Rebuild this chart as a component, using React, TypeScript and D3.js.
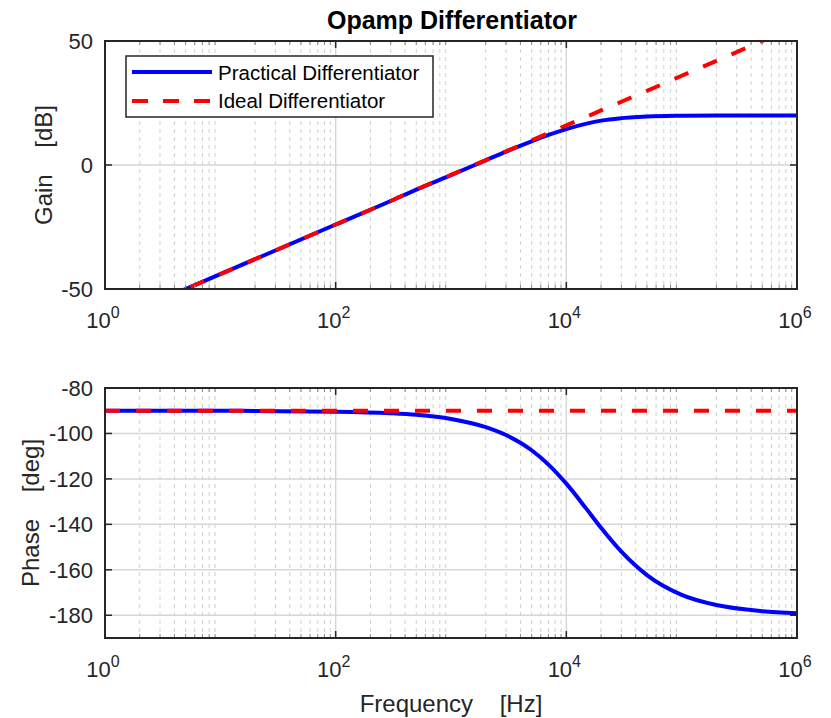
import React from 'react';
import * as d3 from 'd3';

// frequency samples [Hz] and values
const freq = [1, 10, 100, 300, 500, 1000, 2000, 3000, 5000, 7000, 1e4, 1.5e4, 2e4, 3e4, 5e4, 1e5, 2e5, 5e5, 1e6];
const practicalGain = [-64.0, -44.0, -24.0, -14.5, -9.9, -4.1, 1.9, 5.4, 9.5, 12.1, 14.5, 16.7, 17.9, 18.9, 19.6, 19.9, 20.0, 20.0, 20.0];
const idealGain = [-64.0, -44.0, -24.0, -14.5, -9.9, -4.0, 2.0, 5.5, 9.9, 12.9, 16.0, 19.5, 22.0, 25.5, 29.9, 36.0, 42.0, 50.0, 56.0];
const practicalPhase = [-90.0, -90.0, -90.4, -91.1, -91.8, -93.6, -97.2, -100.7, -107.4, -113.7, -122.1, -133.3, -141.5, -152.0, -162.3, -171.0, -175.5, -178.2, -179.1];
const idealPhase = [-90, -90, -90, -90, -90, -90, -90, -90, -90, -90, -90, -90, -90, -90, -90, -90, -90, -90, -90];

const xDecades = [0, 2, 4, 6];
const gainTicks = [-50, 0, 50];
const phaseTicks = [-180, -160, -140, -120, -100, -80];
const legendLabels = ['Practical Differentiator', 'Ideal Differentiator'];

const FONT = '"Liberation Sans", Arial, Helvetica, sans-serif';
const AX = '#262626';
const BLUE = '#0000ff';
const RED = '#ff0000';

const W = 831;
const H = 718;
const left = 105;
const right = 797;

const x = d3.scaleLog().domain([1, 1e6]).range([left, right]);

const minorX: number[] = [];
for (let k = 0; k < 6; k++) {
    for (let m = 2; m <= 9; m++) minorX.push(m * Math.pow(10, k));
}

type PanelProps = {
    id: string;
    top: number;
    bottom: number;
    yDomain: [number, number];
    yTicks: number[];
    series: { values: number[]; color: string; dashed: boolean }[];
    yLabel: [string, string];
    yLabelX: number;
};

const Panel = ({ id, top, bottom, yDomain, yTicks, series, yLabel, yLabelX }: PanelProps) => {
    const y = d3.scaleLinear().domain(yDomain).range([bottom, top]);
    const line = (vals: number[]) =>
        d3
            .line<number>()
            .x((_, i) => x(freq[i]))
            .y((d) => y(d))
            .curve(d3.curveMonotoneX)(vals) || '';
    const midY = (top + bottom) / 2;

    return (
        <g>
            <defs>
                <clipPath id={id}>
                    <rect x={left} y={top} width={right - left} height={bottom - top} />
                </clipPath>
            </defs>
            <rect x={left} y={top} width={right - left} height={bottom - top} fill="#fff" />
            {/* minor grid */}
            {minorX.map((f) => (
                <line key={'mg' + f} x1={x(f)} x2={x(f)} y1={top} y2={bottom} stroke="#d0d0d0" strokeWidth={1} strokeDasharray="4,4" />
            ))}
            {/* major grid */}
            {xDecades.map((d) => (
                <line key={'gx' + d} x1={x(Math.pow(10, d))} x2={x(Math.pow(10, d))} y1={top} y2={bottom} stroke="#d6d6d6" strokeWidth={1.5} />
            ))}
            {yTicks.map((t) => (
                <line key={'gy' + t} x1={left} x2={right} y1={y(t)} y2={y(t)} stroke="#d6d6d6" strokeWidth={1.5} />
            ))}
            {/* data */}
            <g clipPath={`url(#${id})`}>
                {series.map((s, i) => (
                    <path
                        key={i}
                        d={line(s.values)}
                        fill="none"
                        stroke={s.color}
                        strokeWidth={4}
                        strokeDasharray={s.dashed ? '15,16' : undefined}
                    />
                ))}
            </g>
            {/* ticks */}
            {xDecades.map((d) => (
                <g key={'tx' + d}>
                    <line x1={x(Math.pow(10, d))} x2={x(Math.pow(10, d))} y1={bottom} y2={bottom - 7} stroke={AX} strokeWidth={1.5} />
                    <line x1={x(Math.pow(10, d))} x2={x(Math.pow(10, d))} y1={top} y2={top + 7} stroke={AX} strokeWidth={1.5} />
                </g>
            ))}
            {minorX.map((f) => (
                <g key={'mt' + f}>
                    <line x1={x(f)} x2={x(f)} y1={bottom} y2={bottom - 4} stroke="#888" />
                    <line x1={x(f)} x2={x(f)} y1={top} y2={top + 4} stroke="#888" />
                </g>
            ))}
            {yTicks.map((t) => (
                <g key={'ty' + t}>
                    <line x1={left} x2={left + 7} y1={y(t)} y2={y(t)} stroke={AX} strokeWidth={1.5} />
                    <line x1={right} x2={right - 7} y1={y(t)} y2={y(t)} stroke={AX} strokeWidth={1.5} />
                </g>
            ))}
            <rect x={left} y={top} width={right - left} height={bottom - top} fill="none" stroke={AX} strokeWidth={2} />
            {/* tick labels */}
            {yTicks.map((t) => (
                <text key={'ly' + t} x={left - 12} y={y(t) + 8} textAnchor="end" fontSize={22} fill={AX} fontFamily={FONT}>
                    {t}
                </text>
            ))}
            {xDecades.map((d) => (
                <text key={'lx' + d} x={x(Math.pow(10, d)) - 2} y={bottom + 39} textAnchor="middle" fontSize={22} fill={AX} fontFamily={FONT}>
                    10
                    <tspan dy={-10} fontSize={16}>
                        {d}
                    </tspan>
                </text>
            ))}
            <text
                transform={`translate(${yLabelX},${midY}) rotate(-90)`}
                textAnchor="middle"
                fontSize={24}
                fill={AX}
                fontFamily={FONT}
                style={{ whiteSpace: 'pre' }}
            >
                {yLabel[0] + '    ' + yLabel[1]}
            </text>
        </g>
    );
};

export default function App() {
    return (
        <svg width={W} height={H} style={{ position: 'absolute', left: 0, top: 0, background: '#fff' }}>
            <rect width={W} height={H} fill="#fff" />
            <text x={452} y={29} textAnchor="middle" fontSize={25} fontWeight="bold" fill="#000" fontFamily={FONT}>
                Opamp Differentiator
            </text>
            <Panel
                id="clipGain"
                top={41}
                bottom={289}
                yDomain={[-50, 50]}
                yTicks={gainTicks}
                series={[
                    { values: practicalGain, color: BLUE, dashed: false },
                    { values: idealGain, color: RED, dashed: true },
                ]}
                yLabel={['Gain', '[dB]']}
                yLabelX={52}
            />
            {/* legend */}
            <g>
                <rect x={126} y={56} width={307} height={61} fill="#fff" stroke={AX} strokeWidth={1.5} />
                <line x1={132} x2={212} y1={72} y2={72} stroke={BLUE} strokeWidth={4} />
                <line x1={132} x2={212} y1={101} y2={101} stroke={RED} strokeWidth={4} strokeDasharray="16,15" />
                <text x={218} y={80} fontSize={20.5} fill="#000" fontFamily={FONT}>
                    {legendLabels[0]}
                </text>
                <text x={218} y={108} fontSize={20.5} fill="#000" fontFamily={FONT}>
                    {legendLabels[1]}
                </text>
            </g>
            <Panel
                id="clipPhase"
                top={388}
                bottom={638}
                yDomain={[-190, -80]}
                yTicks={phaseTicks}
                series={[
                    { values: practicalPhase, color: BLUE, dashed: false },
                    { values: idealPhase, color: RED, dashed: true },
                ]}
                yLabel={['Phase', '[deg]']}
                yLabelX={39}
            />
            <text x={451} y={712} textAnchor="middle" fontSize={24} fill={AX} fontFamily={FONT} style={{ whiteSpace: 'pre' }}>
                {'Frequency    [Hz]'}
            </text>
        </svg>
    );
}
